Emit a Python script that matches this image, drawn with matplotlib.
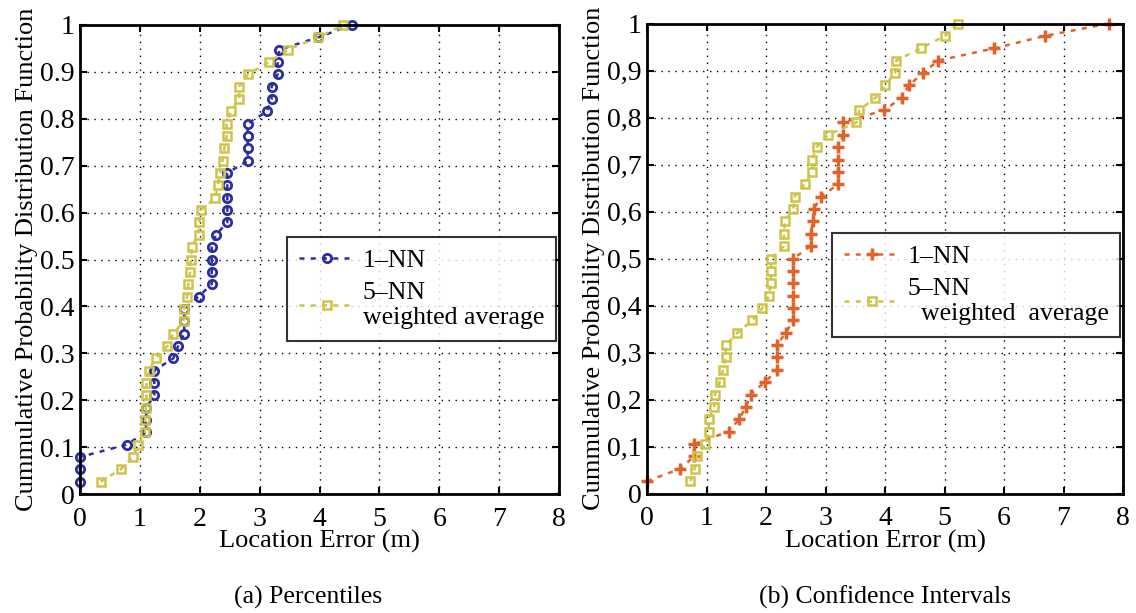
import numpy as np
import matplotlib
matplotlib.use("Agg")
import matplotlib.pyplot as plt
from matplotlib.ticker import FixedLocator, FuncFormatter

plt.rcParams['font.family'] = ['Liberation Serif', 'DejaVu Serif']

#%% Data
# (a) Percentiles
pct_1nn = [0.0, 0.0, 0.0, 0.78, 1.10, 1.10, 1.11, 1.24, 1.24, 1.24, 1.56, 1.64, 1.74, 1.74,
           1.74, 1.98, 2.20, 2.20, 2.20, 2.20, 2.27, 2.46, 2.46, 2.46, 2.46, 2.46, 2.80, 2.80,
           2.80, 2.80, 3.12, 3.20, 3.20, 3.30, 3.30, 3.33, 3.98, 4.54]
pct_5nn = [0.345, 0.68, 0.88, 0.975, 1.086, 1.086, 1.10, 1.11, 1.11, 1.15, 1.27, 1.46, 1.56,
           1.73, 1.74, 1.79, 1.81, 1.84, 1.85, 1.87, 1.98, 1.99, 2.02, 2.26, 2.30, 2.34, 2.38,
           2.41, 2.45, 2.45, 2.52, 2.66, 2.66, 2.80, 3.16, 3.47, 3.98, 4.40]
# (b) Confidence Intervals
ci_1nn = [0.0, 0.56, 0.79, 0.79, 1.37, 1.55, 1.66, 1.74, 1.98, 2.19, 2.19, 2.19, 2.33, 2.46,
          2.46, 2.46, 2.46, 2.46, 2.46, 2.75, 2.75, 2.79, 2.80, 2.93, 3.21, 3.21, 3.21, 3.21,
          3.30, 3.30, 3.99, 4.28, 4.40, 4.64, 4.89, 5.84, 6.69, 7.77]
ci_5nn = [0.73, 0.80, 0.84, 0.97, 1.04, 1.04, 1.13, 1.14, 1.22, 1.28, 1.32, 1.33, 1.52, 1.77,
          1.94, 2.05, 2.08, 2.08, 2.09, 2.30, 2.30, 2.32, 2.46, 2.48, 2.65, 2.78, 2.78, 2.85,
          3.04, 3.52, 3.57, 3.84, 4.00, 4.17, 4.19, 4.60, 5.01, 5.22]

x_ticks = [0, 1, 2, 3, 4, 5, 6, 7, 8]
y_ticks = [0, 0.1, 0.2, 0.3, 0.4, 0.5, 0.6, 0.7, 0.8, 0.9, 1]

blue = "#2a2ea0"
yellow = "#cdc44a"
orange = "#e2622c"


def cdf(vals):
    n = len(vals)
    return np.arange(1, n + 1) / n


def fmt(sep):
    def f(v, pos):
        if abs(v) < 1e-9:
            return "0"
        if abs(v - 1) < 1e-9:
            return "1"
        return f"{v:.1f}".replace(".", sep)
    return FuncFormatter(f)


def style_axes(ax, sep):
    ax.set_xlim(0, 8)
    ax.set_ylim(0, 1)
    ax.xaxis.set_major_locator(FixedLocator(x_ticks))
    ax.yaxis.set_major_locator(FixedLocator(y_ticks))
    ax.yaxis.set_major_formatter(fmt(sep))
    ax.tick_params(direction="in", length=5, width=1.5, top=True, right=True, labelsize=20)
    ax.tick_params(axis="x", pad=9)
    ax.tick_params(axis="y", pad=4)
    ax.grid(True, linestyle=(0, (1, 4)), color="black", linewidth=1)
    for s in ax.spines.values():
        s.set_linewidth(2)
    ax.set_xlabel("Location Error (m)", fontsize=19, labelpad=-1)
    ax.set_ylabel("Cummulative Probability Distribution Function", fontsize=19, labelpad=1)


fig = plt.figure(figsize=(11.36, 6.13), dpi=100)
W, H = 1136, 613
ax1 = fig.add_axes([80 / W, 1 - 494 / H, (559 - 80) / W, (494 - 25) / H])
ax2 = fig.add_axes([647 / W, 1 - 493.5 / H, (1123 - 647) / W, (493.5 - 23.5) / H])

ls = (0, (2, 2.5))
ax1.plot(pct_1nn, cdf(pct_1nn), linestyle=ls, color=blue, linewidth=1.8, marker="o",
         markersize=6, markerfacecolor="none", markeredgewidth=2, clip_on=False, label="1\u2013NN")
ax1.plot(pct_5nn, cdf(pct_5nn), linestyle=ls, color=yellow, linewidth=1.8, marker="s",
         markersize=5.5, markerfacecolor="none", markeredgewidth=1.8, clip_on=False,
         label="5\u2013NN\nweighted average")
style_axes(ax1, ".")

ax2.plot(ci_1nn, cdf(ci_1nn), linestyle=ls, color=orange, linewidth=1.8, marker="+",
         markersize=8, markeredgewidth=2.5, clip_on=False, label="1\u2013NN")
ax2.plot(ci_5nn, cdf(ci_5nn), linestyle=ls, color=yellow, linewidth=1.8, marker="s",
         markersize=5.5, markerfacecolor="none", markeredgewidth=1.8, clip_on=False,
         label="5\u2013NN\n  weighted  average")
style_axes(ax2, ",")

for ax, anchor in [(ax1, (287 / W, 1 - 341 / H)), (ax2, (832 / W, 1 - 337 / H))]:
    leg = ax.legend(loc="lower left", bbox_to_anchor=anchor, bbox_transform=fig.transFigure,
                    fontsize=18.5, frameon=True, fancybox=False, edgecolor="black",
                    handlelength=2.2, borderaxespad=0, labelspacing=0.4, handletextpad=0.3,
                    borderpad=0.45)
    leg.get_frame().set_linewidth(1.5)

fig.text(308 / W, 1 - 597 / H, "(a) Percentiles", ha="center", va="center", fontsize=18.5)
fig.text(885 / W, 1 - 597 / H, "(b) Confidence Intervals", ha="center", va="center", fontsize=18.5)

fig.savefig("out.png", dpi=100)
